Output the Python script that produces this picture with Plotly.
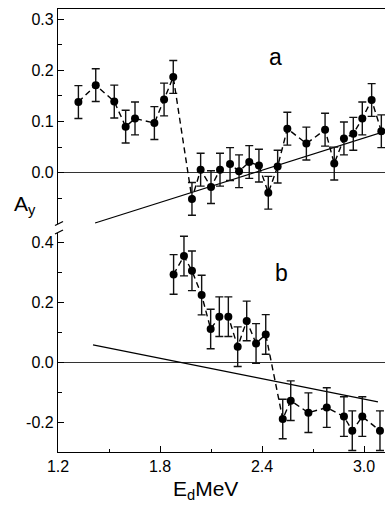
import plotly.graph_objects as go

# ---- panel a data ----
xa = [1.320, 1.422, 1.531, 1.598, 1.653, 1.767, 1.824, 1.878, 1.988, 2.039, 2.100, 2.153,
      2.212, 2.265, 2.325, 2.382, 2.437, 2.492, 2.549, 2.661, 2.771, 2.825, 2.882, 2.937,
      2.990, 3.045, 3.102]
ya = [0.138, 0.171, 0.139, 0.090, 0.106, 0.097, 0.143, 0.187, -0.051, 0.006, -0.028, 0.006,
      0.017, 0.003, 0.021, 0.014, -0.039, 0.012, 0.086, 0.057, 0.084, 0.018, 0.067, 0.076,
      0.106, 0.142, 0.081]
ea = [0.032] * len(xa)
fit_a_x = [1.418, 3.124]
fit_a_y = [-0.098, 0.081]

# ---- panel b data ----
xb = [1.880, 1.941, 1.988, 2.045, 2.098, 2.149, 2.202, 2.257, 2.310, 2.365, 2.422,
      2.522, 2.569, 2.673, 2.781, 2.882, 2.931, 2.990, 3.094]
yb = [0.292, 0.353, 0.304, 0.223, 0.110, 0.151, 0.151, 0.051, 0.137, 0.062, 0.092,
      -0.190, -0.129, -0.169, -0.152, -0.182, -0.229, -0.182, -0.229]
eb = [0.066] * len(xb)
fit_b_x = [1.406, 3.082]
fit_b_y = [0.057, -0.133]

# ---- ticks ----
x_tickvals = [1.2, 1.8, 2.4, 3.0]
x_ticktext = ["1.2", "1.8", "2.4", "3.0"]
x_minor = [1.5, 2.1, 2.7]
ya_tickvals = [0.0, 0.1, 0.2, 0.3]
ya_ticktext = ["0.0", "0.1", "0.2", "0.3"]
ya_minor = [-0.05, 0.05, 0.15, 0.25]
yb_tickvals = [-0.2, 0.0, 0.2, 0.4]
yb_ticktext = ["-0.2", "0.0", "0.2", "0.4"]
yb_minor = [-0.1, 0.1, 0.3]

FONT = "Liberation Sans, Arial, sans-serif"
W, H = 385, 505
# plot area in screen pixels
SL, SR, ST, SB = 58, 385, 9, 452
ML, MT = SL, ST
MR = W - SR
MB = H - SB
PW, PH = SR - SL, SB - ST


def px2paper(px, py):
    return (px - SL) / PW, (SB - py) / PH


fig = go.Figure()


def add_panel(x, y, e, fx, fy, xax, yax):
    fig.add_trace(go.Scatter(
        x=fx, y=fy, mode="lines", xaxis=xax, yaxis=yax,
        line=dict(color="black", width=1.2), hoverinfo="skip", showlegend=False))
    fig.add_trace(go.Scatter(
        x=x, y=y, mode="lines+markers", xaxis=xax, yaxis=yax, cliponaxis=False,
        line=dict(color="black", width=1.4, dash="6px,4px"),
        marker=dict(color="black", size=8),
        error_y=dict(type="data", array=e, visible=True, color="#111111",
                     thickness=1.4, width=4),
        showlegend=False))


add_panel(xa, ya, ea, fit_a_x, fit_a_y, "x2", "y2")
add_panel(xb, yb, eb, fit_b_x, fit_b_y, "x", "y")

tickfont = dict(family=FONT, size=16, color="black")
xr = [1.2, 1.2 + PW / 170.0]

top_a, bot_a = 9, 224
top_b, bot_b = 233, 452
dom_a = [(SB - bot_a) / PH, (SB - top_a) / PH]
dom_b = [(SB - bot_b) / PH, (SB - top_b) / PH]

fig.update_layout(
    width=W, height=H,
    margin=dict(l=ML, r=MR, t=MT, b=MB, autoexpand=False),
    paper_bgcolor="white", plot_bgcolor="white",
    showlegend=False,
    xaxis=dict(domain=[0, 1], anchor="y", range=xr, showline=True, linecolor="black",
               linewidth=1.3, ticks="inside", ticklen=6, tickwidth=1.2, tickcolor="black",
               tickmode="array", tickvals=x_tickvals, ticktext=x_ticktext,
               minor=dict(ticks="inside", ticklen=3, tickwidth=1.2, tickcolor="black",
                          tickmode="array", tickvals=x_minor, showgrid=False),
               showgrid=False, zeroline=False, tickfont=tickfont),
    yaxis=dict(domain=dom_b, anchor="x", range=[-0.3, 0.43], showline=True,
               linecolor="black", linewidth=1.3, ticks="inside", ticklen=6, tickwidth=1.2,
               tickcolor="black", tickmode="array", tickvals=yb_tickvals, ticktext=yb_ticktext,
               minor=dict(ticks="inside", ticklen=4, tickwidth=1.2, tickcolor="black",
                          tickmode="array", tickvals=yb_minor, showgrid=False),
               showgrid=False, zeroline=True, zerolinecolor="#333333", zerolinewidth=1.2,
               tickfont=tickfont),
    xaxis2=dict(domain=[0, 1], anchor="y2", range=xr, side="top", showline=True,
                linecolor="black", linewidth=1.3, ticks="", showticklabels=False,
                showgrid=False, zeroline=False),
    yaxis2=dict(domain=dom_a, anchor="x2", range=[-0.1, 0.3196], showline=True,
                linecolor="black", linewidth=1.3, ticks="inside", ticklen=6, tickwidth=1.2,
                tickcolor="black", tickmode="array", tickvals=ya_tickvals, ticktext=ya_ticktext,
                minor=dict(ticks="inside", ticklen=4, tickwidth=1.2, tickcolor="black",
                           tickmode="array", tickvals=ya_minor, showgrid=False),
                showgrid=False, zeroline=True, zerolinecolor="#333333", zerolinewidth=1.2,
                tickfont=tickfont),
)

# panel labels
fig.add_annotation(x=2.482, y=0.225, xref="x2", yref="y2", text="a", showarrow=False,
                   font=dict(family=FONT, size=23, color="black"))
fig.add_annotation(x=2.515, y=0.298, xref="x", yref="y", text="b", showarrow=False,
                   font=dict(family=FONT, size=23, color="black"))

# axis titles
ax, ay = px2paper(12, 205)
fig.add_annotation(x=ax, y=ay, xref="paper", yref="paper", text="A<sub>y</sub>",
                   showarrow=False, xanchor="left", yanchor="middle",
                   font=dict(family=FONT, size=21, color="black"))
ex, ey = px2paper(171, 490)
fig.add_annotation(x=ex, y=ey, xref="paper", yref="paper", text="E<sub>d</sub>MeV",
                   showarrow=False, xanchor="left", yanchor="middle",
                   font=dict(family=FONT, size=21, color="black"))

# axis break marks
for (x0, y0, x1, y1) in [(55, 225.5, 63, 221.5), (55, 234, 63, 230)]:
    p0 = px2paper(x0, y0)
    p1 = px2paper(x1, y1)
    fig.add_shape(type="line", xref="paper", yref="paper", x0=p0[0], y0=p0[1],
                  x1=p1[0], y1=p1[1], line=dict(color="black", width=1.3))

fig.write_html("out.html",
               config={"displayModeBar": False},
               post_script="document.body.style.margin='0';"
                           "document.body.style.overflow='hidden';")
